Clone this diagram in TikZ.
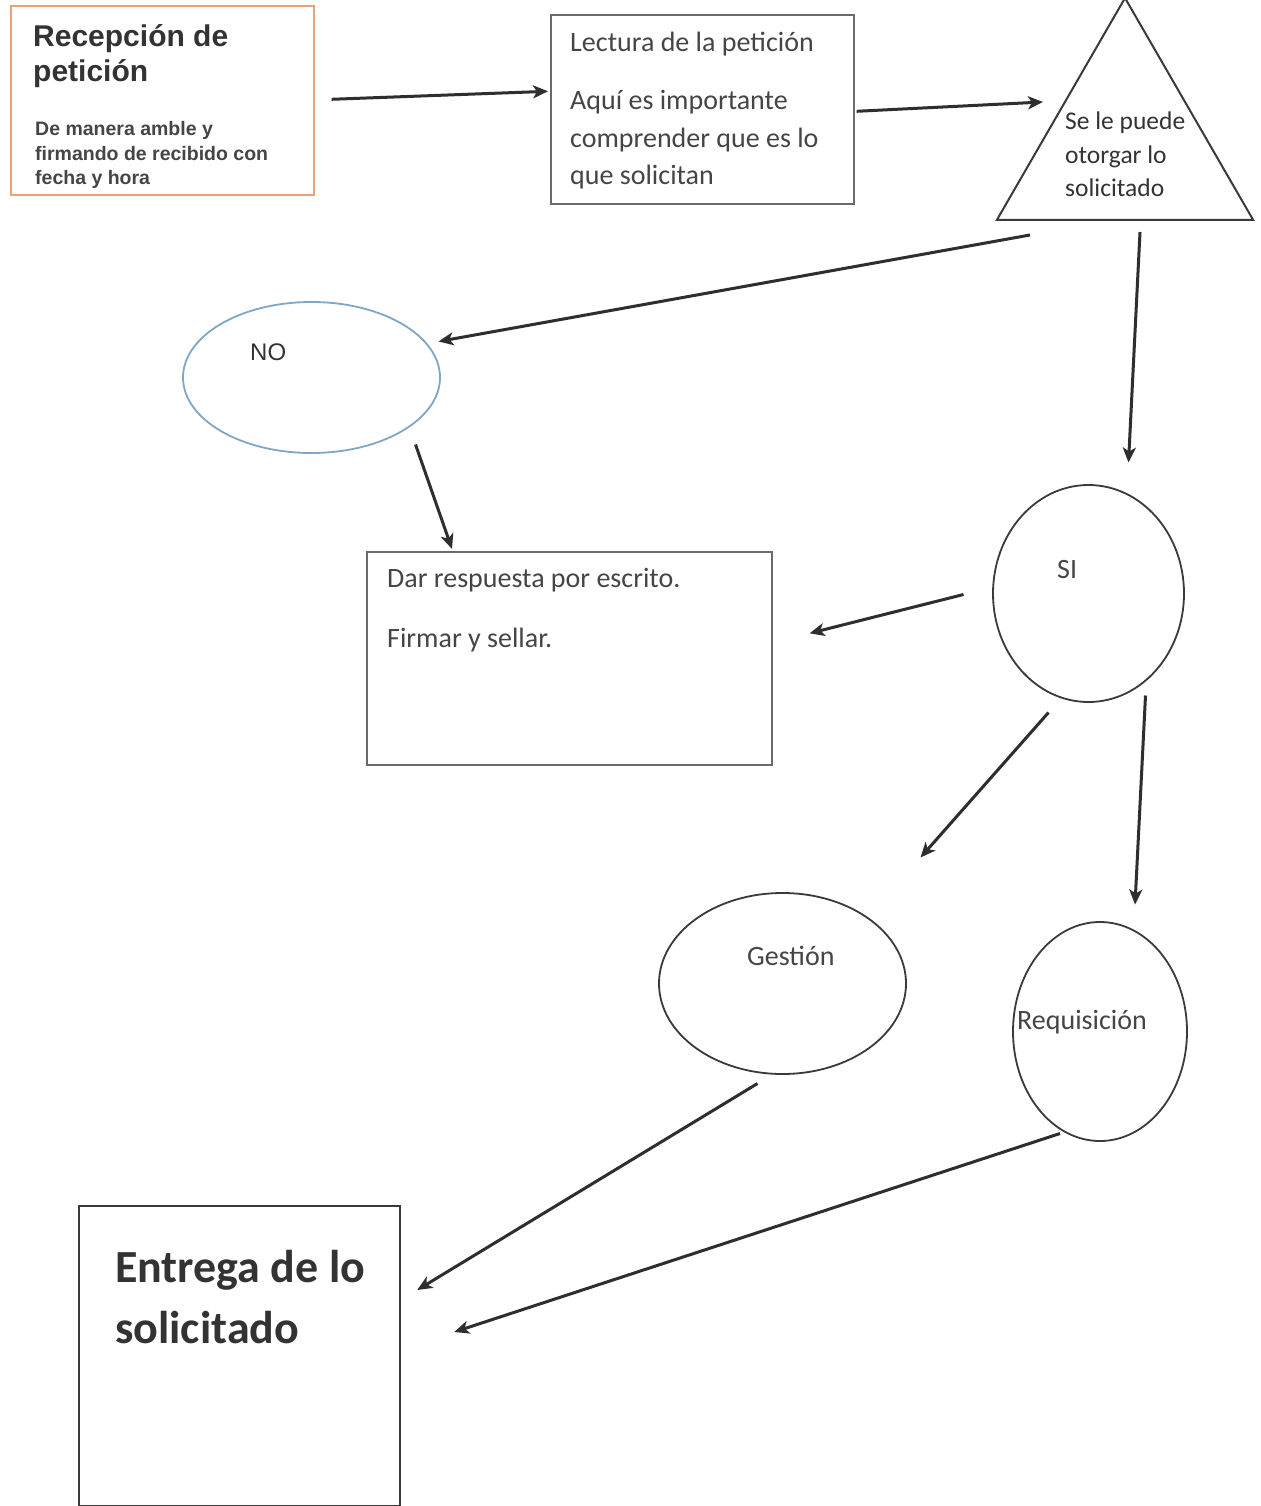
\documentclass[tikz,border=0pt]{standalone}
\usepackage{fontspec}
\setmainfont{Carlito}
\newfontfamily\arialf{Liberation Sans}
\newfontfamily\calif{Carlito}
\usetikzlibrary{shapes.geometric,arrows.meta,calc}
\definecolor{txtc}{HTML}{454545}
\definecolor{darktxt}{HTML}{333333}
\definecolor{boxgray}{HTML}{6A6A6A}
\definecolor{orangeb}{HTML}{E9A27A}
\definecolor{blueb}{HTML}{7FA6C6}
\definecolor{linec}{HTML}{3A3A3A}
\definecolor{arrc}{HTML}{2E2E2E}
\begin{document}
\begin{tikzpicture}[x=1pt,y=-1pt,
  arr/.style={draw=arrc, line width=3pt, -{Stealth[length=15pt,width=13pt,inset=4pt]}},
  rbox/.style={draw=#1, line width=1.6pt, rectangle, inner sep=0pt, anchor=north west},
  oval/.style={draw=#1, line width=1.8pt, ellipse, inner sep=0pt},
  lbl/.style={anchor=base west, inner sep=0pt, text=txtc},
  arialtitle/.style={lbl, text=darktxt, font=\arialf\bfseries\fontsize{30}{35}\selectfont},
  arialbody/.style={lbl, text=txtc, font=\arialf\bfseries\fontsize{19.5}{24}\selectfont},
  calitext/.style={lbl, font=\calif\fontsize{28}{34}\selectfont},
  tritext/.style={lbl, text=darktxt, font=\calif\fontsize{25.5}{30}\selectfont},
  bigtext/.style={lbl, text=darktxt, font=\calif\bfseries\fontsize{46}{56}\selectfont}
]
\useasboundingbox[fill=white] (0,0) rectangle (1260,1506);

% Boxes
\node[rbox=orangeb, minimum width=303pt, minimum height=189pt] (recep) at (10,5) {};
\node[rbox=boxgray, minimum width=303pt, minimum height=189pt] (lect) at (550,14) {};
\node[rbox=boxgray, minimum width=405pt, minimum height=213pt] (resp) at (366,551) {};
\node[rbox=linec, line width=2.2pt, minimum width=321pt, minimum height=300pt] (entrega) at (78,1205) {};

% Triangle
\node[draw=linec, line width=2pt, regular polygon, regular polygon sides=3,
      minimum size=296pt, inner sep=0pt] (tri) at (1125,146) {};

% Ellipses
\node[oval=blueb, minimum width=257pt, minimum height=151pt] (no) at (311.5,377.5) {};
\node[oval=linec, minimum width=191pt, minimum height=217pt] (si) at (1088.5,593.5) {};
\node[oval=linec, minimum width=247pt, minimum height=181pt] (gest) at (782.5,983.5) {};
\node[oval=linec, minimum width=174pt, minimum height=219pt] (req) at (1100,1031.5) {};

% Texts
\node[arialtitle] (t1a) at (33,47) {Recepción de};
\node[arialtitle] (t1b) at (33,82) {petición};
\node[arialbody] (t1c) at (35,136) {De manera amble y};
\node[arialbody] (t1d) at (35,161) {firmando de recibido con};
\node[arialbody] (t1e) at (35,185) {fecha y hora};

\node[calitext] (t2a) at (570,52) {Lectura de la petición};
\node[calitext] (t2b) at (570,110) {Aquí es importante};
\node[calitext] (t2c) at (570,148) {comprender que es lo};
\node[calitext] (t2d) at (570,185) {que solicitan};

\node[tritext] (t3a) at (1065,130) {Se le puede};
\node[tritext] (t3b) at (1065,164) {otorgar lo};
\node[tritext] (t3c) at (1065,197) {solicitado};

\node[lbl, text=darktxt, font=\arialf\fontsize{24}{28}\selectfont] (tno) at (250,360) {NO};
\node[calitext] (tsi) at (1057,578) {SI};

\node[calitext] (t4a) at (387,587) {Dar respuesta por escrito.};
\node[calitext] (t4b) at (387,647) {Firmar y sellar.};

\node[calitext] (tgest) at (747,965) {Gestión};
\node[calitext] (treq) at (1017,1029) {Requisición};

\node[bigtext] (t5a) at (115,1282) {Entrega de lo};
\node[bigtext] (t5b) at (115,1343) {solicitado};

% Connectors
\draw[arr] ($(recep.east)+(17,-1)$) -- ($(lect.west)+(-2,-18)$);
\draw[arr] ($(lect.east)+(2,2)$) -- ($(tri.center)+(-82,-44)$);
\draw[arr] ($(tri.center)+(-95,89)$) -- ($(no.center)+(127,-36)$);
\draw[arr] ($(tri.center)+(15,86)$) -- ($(si.center)+(40,-131)$);
\draw[arr] ($(no.center)+(104,67)$) -- ($(resp.north west)+(86,-2)$);
\draw[arr] ($(si.center)+(-125,1)$) -- ($(resp.east)+(37,-25)$);
\draw[arr] ($(si.center)+(-40,119)$) -- ($(gest.center)+(138,-126)$);
\draw[arr] ($(si.center)+(57,102)$) -- ($(req.center)+(35,-127)$);
\draw[arr] ($(gest.center)+(-25,100)$) -- ($(entrega.north east)+(16,85)$);
\draw[arr] ($(req.center)+(-40,102)$) -- ($(entrega.north east)+(53,127)$);
\end{tikzpicture}
\end{document}
